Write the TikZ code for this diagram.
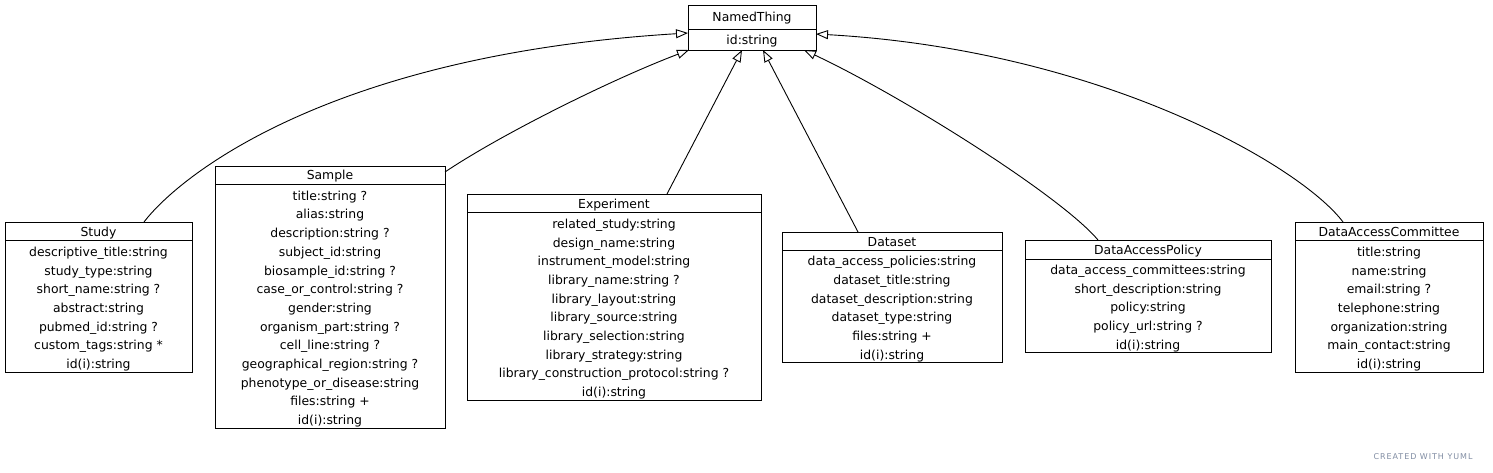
\documentclass[tikz,border=0pt]{standalone}
\usepackage{fontspec}
\setmainfont{DejaVu Sans}
\usetikzlibrary{arrows.meta}
\definecolor{yumlgray}{RGB}{128,140,162}
\newcommand\fr{\rule{0pt}{15.5pt}}
\tikzset{
  box/.style={draw=black, line width=0.9pt, inner sep=0pt, outer sep=0pt, anchor=north west,
    align=center, font=\fontsize{12.4}{18.7}\selectfont},
  titlebox/.style={box, text height=11pt, text depth=1pt},
  bodybox/.style={box},
  inherit/.style={draw=black, line width=0.9pt, -{Triangle[open, length=12pt, width=9pt]}},
}
\begin{document}
\begin{tikzpicture}[x=1pt, y=-1pt]
\useasboundingbox (0,0) rectangle (1493,473);
% NamedThing
\node[titlebox, minimum width=128pt, minimum height=24pt] (nt-t) at (688,5) {NamedThing};
\node[box, text height=12pt, text depth=1pt, minimum width=128pt, minimum height=21pt] (nt-b) at (688,29) {id:string};
% Study
\node[titlebox, minimum width=187pt, minimum height=18pt] (study-t) at (5,222) {Study};
\node[bodybox, minimum width=187pt, minimum height=132pt] (study) at (5,240)
  {\fr descriptive\_title:string\\study\_type:string\\short\_name:string ?\\abstract:string\\pubmed\_id:string ?\\custom\_tags:string *\\id(i):string};
% Sample
\node[titlebox, minimum width=230pt, minimum height=18pt] (sample-t) at (215,166) {Sample};
\node[bodybox, minimum width=230pt, minimum height=244pt] (sample) at (215,184)
  {\fr title:string ?\\alias:string\\description:string ?\\subject\_id:string\\biosample\_id:string ?\\case\_or\_control:string ?\\gender:string\\organism\_part:string ?\\cell\_line:string ?\\geographical\_region:string ?\\phenotype\_or\_disease:string\\files:string +\\id(i):string};
% Experiment
\node[titlebox, minimum width=294pt, minimum height=18pt] (exp-t) at (467,194) {Experiment};
\node[bodybox, minimum width=294pt, minimum height=188pt] (exp) at (467,212)
  {\fr related\_study:string\\design\_name:string\\instrument\_model:string\\library\_name:string ?\\library\_layout:string\\library\_source:string\\library\_selection:string\\library\_strategy:string\\library\_construction\_protocol:string ?\\id(i):string};
% Dataset
\node[titlebox, minimum width=220pt, minimum height=18pt] (ds-t) at (782,232) {Dataset};
\node[bodybox, minimum width=220pt, minimum height=112pt] (ds) at (782,250)
  {\fr data\_access\_policies:string\\dataset\_title:string\\dataset\_description:string\\dataset\_type:string\\files:string +\\id(i):string};
% DataAccessPolicy
\node[titlebox, minimum width=246pt, minimum height=19pt] (dap-t) at (1025,240) {DataAccessPolicy};
\node[bodybox, minimum width=246pt, minimum height=93pt] (dap) at (1025,259)
  {\fr data\_access\_committees:string\\short\_description:string\\policy:string\\policy\_url:string ?\\id(i):string};
% DataAccessCommittee
\node[titlebox, minimum width=188pt, minimum height=18pt] (dac-t) at (1295,222) {DataAccessCommittee};
\node[bodybox, minimum width=188pt, minimum height=132pt] (dac) at (1295,240)
  {\fr title:string\\name:string\\email:string ?\\telephone:string\\organization:string\\main\_contact:string\\id(i):string};
% inheritance edges
\draw[inherit] ([xshift=139pt]study-t.north west) .. controls (180,175) and (330,55) .. ([yshift=-4pt]nt-b.north west);
\draw[inherit] ([yshift=-6pt]sample-t.north east) .. controls (500,135) and (610,80) .. ([xshift=1pt]nt-b.south west);
\draw[inherit] ([xshift=200pt]exp-t.north west) -- ([xshift=54pt]nt-b.south west);
\draw[inherit] ([xshift=76pt]ds-t.north west) -- ([xshift=75pt]nt-b.south west);
\draw[inherit] ([xshift=73pt]dap-t.north west) .. controls (1060,195) and (900,95) .. ([xshift=116pt]nt-b.south west);
\draw[inherit] ([xshift=48pt]dac-t.north west) .. controls (1300,165) and (1100,50) .. ([yshift=-5pt]nt-b.north east);
% watermark
\node[text=yumlgray, font=\fontsize{8}{9}\selectfont\addfontfeature{LetterSpace=12}, inner sep=0pt] (yuml) at (1423,457) {CREATED WITH YUML};
\end{tikzpicture}
\end{document}
